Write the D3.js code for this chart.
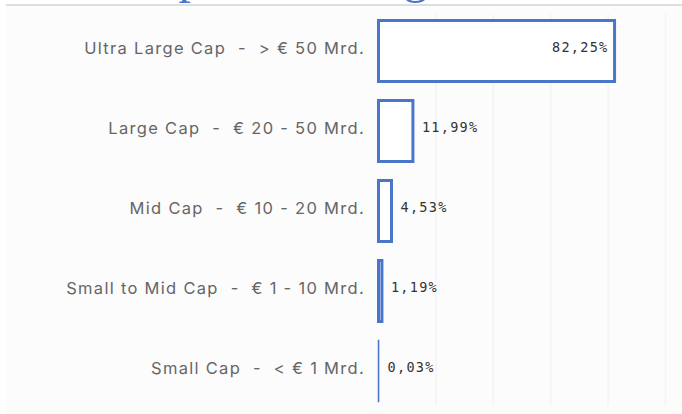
<!DOCTYPE html>
<html lang="de">
<head>
    <meta charset="UTF-8">
    <title>Marktkapitalisierung</title>
    <script src="https://d3js.org/d3.v7.min.js"></script>
    <style>
        html, body { margin: 0; padding: 0; background: #fff; }
        svg { display: block; }
        .cat { font-family: Inter, "Noto Sans", sans-serif; font-size: 16.5px; fill: #666; letter-spacing: 1.3px; white-space: pre; }
        .val { font-family: "DejaVu Sans Mono", monospace; font-size: 13.5px; fill: #333; letter-spacing: 1.3px; }
    </style>
</head>
<body>
    <div id="chart"></div>

    <script>
        const title = "Marktkapitalisierung";
        const categories = [
            "Ultra Large Cap  -  > € 50 Mrd.",
            "Large Cap  -  € 20 - 50 Mrd.",
            "Mid Cap  -  € 10 - 20 Mrd.",
            "Small to Mid Cap  -  € 1 - 10 Mrd.",
            "Small Cap  -  < € 1 Mrd."
        ];
        const values = [82.25, 11.99, 4.53, 1.19, 0.03];
        const gridTicks = [20, 40, 60, 80, 100];

        const width = 682, height = 414;
        const blue = "#4a76c9";

        const svg = d3.select("#chart")
                      .append("svg")
                      .attr("width", width)
                      .attr("height", height);

        // title, only its descenders peek in at the top
        svg.append("text")
           .attr("x", 9)
           .attr("y", -8)
           .attr("font-family", "Liberation Serif, serif")
           .attr("font-size", 50)
           .attr("fill", blue)
           .text(title);

        svg.append("rect")
           .attr("x", 6).attr("y", 4)
           .attr("width", width - 6).attr("height", 2)
           .attr("fill", "#dedede");

        svg.append("rect")
           .attr("x", 6).attr("y", 6)
           .attr("width", width - 6).attr("height", height - 6)
           .attr("fill", "#fcfcfc");

        const x = d3.scaleLinear().domain([0, 100]).range([378.5, 665.5]);
        const y = d3.scaleBand()
                    .domain(categories)
                    .range([11, 411])
                    .paddingInner(0.2375)
                    .paddingOuter(0.11875);

        // grid
        svg.append("g")
           .selectAll("line")
           .data(gridTicks)
           .enter()
           .append("line")
           .attr("x1", d => x(d)).attr("x2", d => x(d))
           .attr("y1", 14).attr("y2", 406)
           .attr("stroke", "#f5f5f5")
           .attr("stroke-width", 2);

        // bars
        svg.append("g")
           .selectAll("rect")
           .data(values)
           .enter()
           .append("rect")
           .attr("x", x(0))
           .attr("y", (d, i) => y(categories[i]))
           .attr("width", d => x(d) - x(0))
           .attr("height", y.bandwidth())
           .attr("fill", "#fff")
           .attr("stroke", blue)
           .attr("stroke-width", d => d < 0.5 ? 1.5 : 3);

        // category labels
        svg.append("g")
           .selectAll("text")
           .data(categories)
           .enter()
           .append("text")
           .attr("class", "cat")
           .attr("x", 365)
           .attr("y", d => y(d) + y.bandwidth() / 2 - 3)
           .attr("dy", "0.35em")
           .attr("text-anchor", "end")
           .text(d => d);

        // value labels
        const fmt = v => v.toFixed(2).replace(".", ",") + "%";
        svg.append("g")
           .selectAll("text")
           .data(values)
           .enter()
           .append("text")
           .attr("class", "val")
           .attr("x", d => d > 50 ? x(d) - 6 : x(d) + 9)
           .attr("y", (d, i) => y(categories[i]) + y.bandwidth() / 2 - 4)
           .attr("dy", "0.35em")
           .attr("text-anchor", d => d > 50 ? "end" : "start")
           .text(d => fmt(d));
    </script>
</body>
</html>
